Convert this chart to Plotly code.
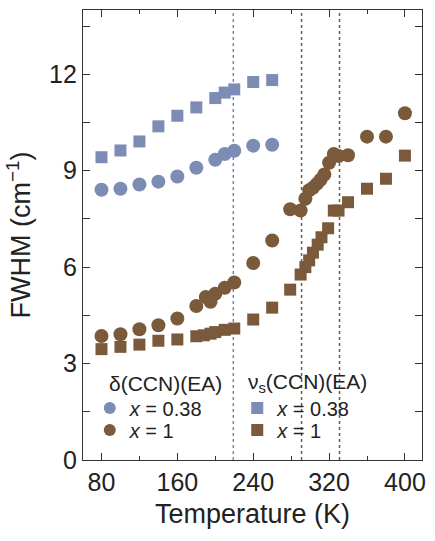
import plotly.graph_objects as go

# delta(CCN)(EA), x = 0.38
t_d038 = [80, 100, 120, 140, 160, 180, 200, 210, 220, 240, 260]
w_d038 = [8.41, 8.44, 8.57, 8.66, 8.82, 9.09, 9.34, 9.52, 9.62, 9.78, 9.81]
# nu_s(CCN)(EA), x = 0.38
t_n038 = [80, 100, 120, 140, 160, 180, 200, 210, 220, 240, 260]
w_n038 = [9.42, 9.63, 9.91, 10.38, 10.71, 10.97, 11.26, 11.43, 11.53, 11.76, 11.82]
# delta(CCN)(EA), x = 1
t_d1 = [80, 100, 120, 140, 160, 180, 190, 195, 200, 210, 220, 240, 260, 279, 290,
        295, 299, 303, 307, 311, 315, 320, 325, 330, 340, 360, 380, 400]
w_d1 = [3.86, 3.91, 4.07, 4.19, 4.40, 4.79, 5.07, 4.92, 5.17, 5.36, 5.52, 6.13, 6.83, 7.80, 7.76,
        8.13, 8.39, 8.47, 8.59, 8.72, 8.88, 9.25, 9.52, 9.46, 9.48, 10.06, 10.06, 10.79]
# nu_s(CCN)(EA), x = 1
t_n1 = [80, 100, 120, 140, 160, 180, 188, 195, 200, 210, 220, 240, 260, 279, 290,
        295, 299, 303, 308, 312, 319, 325, 330, 340, 360, 380, 400]
w_n1 = [3.45, 3.52, 3.59, 3.71, 3.75, 3.85, 3.88, 3.93, 3.98, 4.05, 4.09, 4.37, 4.74, 5.30, 5.77,
        6.00, 6.21, 6.45, 6.70, 6.93, 7.21, 7.76, 7.76, 8.02, 8.44, 8.75, 9.47]
# transition temperatures (dotted lines)
t_blue_line = [219]
t_brown_lines = [291, 331]

x_ticks = [80, 160, 240, 320, 400]
y_ticks = [0, 3, 6, 9, 12]

BLUE = "#7c8cb4"
BROWN = "#7a5a3b"
FONT = "Liberation Sans, Arial, sans-serif"

fig = go.Figure()

fig.add_trace(go.Scatter(x=t_d038, y=w_d038, mode="markers", legend="legend", showlegend=True,
                         name="<i>x</i> = 0.38",
                         marker=dict(symbol="circle", size=14, color=BLUE)))
fig.add_trace(go.Scatter(x=t_d1, y=w_d1, mode="markers", legend="legend2", showlegend=True,
                         name="<i>x</i> = 1",
                         marker=dict(symbol="circle", size=14, color=BROWN)))
fig.add_trace(go.Scatter(x=t_n038, y=w_n038, mode="markers", legend="legend3", showlegend=True,
                         name="<i>x</i> = 0.38",
                         marker=dict(symbol="square", size=12, color=BLUE)))
fig.add_trace(go.Scatter(x=t_n1, y=w_n1, mode="markers", legend="legend4", showlegend=True,
                         name="<i>x</i> = 1",
                         marker=dict(symbol="square", size=12, color=BROWN)))

for t in t_blue_line:
    fig.add_shape(type="line", x0=t, x1=t, y0=0, y1=1, xref="x", yref="paper",
                  line=dict(color="#7189c6", width=1.5, dash="dot"), layer="below")
for t in t_brown_lines:
    fig.add_shape(type="line", x0=t, x1=t, y0=0, y1=1, xref="x", yref="paper",
                  line=dict(color="#7a5a3b", width=1.5, dash="dot"), layer="below")

fig.add_annotation(text="δ(CCN)(EA)", x=0.072, y=0.171, xref="paper", yref="paper",
                   xanchor="left", yanchor="middle", showarrow=False,
                   font=dict(size=21, color="#222", family=FONT))
fig.add_annotation(text="ν<sub>s</sub>(CCN)(EA)", x=0.48, y=0.171, xref="paper", yref="paper",
                   xanchor="left", yanchor="middle", showarrow=False,
                   font=dict(size=21, color="#222", family=FONT))

legend_common = dict(bgcolor="rgba(0,0,0,0)", borderwidth=0, font=dict(size=20, color="#222", family=FONT),
                     itemwidth=30, tracegroupgap=0, yanchor="middle", xanchor="left",
                     itemsizing="constant", visible=True)
x_left = 0.02
x_right = 0.455
row1 = 0.1153
row2 = 0.0665
fig.update_layout(
    width=435, height=541,
    showlegend=True,
    margin=dict(l=83, r=10, t=9, b=81),
    plot_bgcolor="white", paper_bgcolor="white",
    font=dict(family=FONT, size=25, color="#222"),
    legend=dict(x=x_left, y=row1, **legend_common),
    legend2=dict(x=x_left, y=row2, **legend_common),
    legend3=dict(x=x_right, y=row1, **legend_common),
    legend4=dict(x=x_right, y=row2, **legend_common),
    xaxis=dict(range=[60.5, 418], tickvals=x_ticks, ticks="inside", ticklen=7, tickwidth=1.3,
               tickcolor="#333", showline=True, linecolor="#333", linewidth=1.3, mirror="ticks",
               showgrid=False, zeroline=False,
               minor=dict(dtick=40, tick0=0, ticks="inside", ticklen=4, tickcolor="#333", tickwidth=1.3),
               title=dict(text="Temperature (K)", font=dict(size=27), standoff=8),
               tickfont=dict(size=25)),
    yaxis=dict(range=[0, 14], tickvals=y_ticks, ticks="inside", ticklen=7, tickwidth=1.3,
               tickcolor="#333", showline=True, linecolor="#333", linewidth=1.3, mirror="ticks",
               showgrid=False, zeroline=False,
               minor=dict(dtick=1.5, tick0=0, ticks="inside", ticklen=7, tickcolor="#333", tickwidth=1.3),
               title=dict(text="FWHM (cm<sup>−1</sup>)", font=dict(size=27), standoff=10),
               tickfont=dict(size=25)),
)

fig.write_html("out.html")
